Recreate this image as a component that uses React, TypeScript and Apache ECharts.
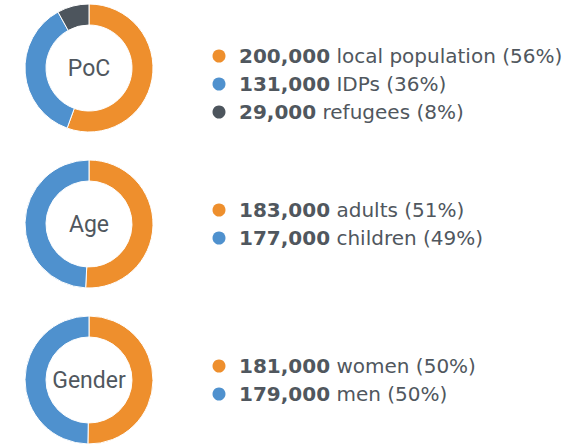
import React, { useEffect, useRef } from "react";
import * as echarts from "echarts";

const ORANGE = "#EE8F2D";
const BLUE = "#4F91CE";
const DARK = "#4D555D";
const TEXT = "#50575E";

const groupTitles = ["PoC", "Age", "Gender"];

const pocLabels = ["local population", "IDPs", "refugees"];
const pocValues = [200000, 131000, 29000];
const pocPercents = [56, 36, 8];
const pocColors = [ORANGE, BLUE, DARK];

const ageLabels = ["adults", "children"];
const ageValues = [183000, 177000];
const agePercents = [51, 49];
const ageColors = [ORANGE, BLUE];

const genderLabels = ["women", "men"];
const genderValues = [181000, 179000];
const genderPercents = [50, 50];
const genderColors = [ORANGE, BLUE];

const groups = [
  { labels: pocLabels, values: pocValues, percents: pocPercents, colors: pocColors },
  { labels: ageLabels, values: ageValues, percents: agePercents, colors: ageColors },
  { labels: genderLabels, values: genderValues, percents: genderPercents, colors: genderColors },
];

// layout
const pieCx = 89;
const pieCys = [68, 224, 380];
const legendStartYs = [56, 210, 366];
const rowGap = 28;
const dotX = 219;
const textX = 239;

const fmt = (v: number) => v.toLocaleString("en-US");

export default function App() {
  const ref = useRef<HTMLDivElement>(null);
  useEffect(() => {
    document.body.style.margin = "0";
    if (!ref.current) return;
    const chart = echarts.init(ref.current, null, { renderer: "svg" });
    const series: any[] = groups.map((g, gi) => ({
      type: "pie",
      center: [pieCx, pieCys[gi]],
      radius: [43, 64],
      startAngle: 90,
      clockwise: true,
      silent: true,
      label: {
        show: true,
        position: "center",
        formatter: () => groupTitles[gi],
        fontFamily: "Roboto",
        fontSize: 23,
        color: TEXT,
      },
      labelLine: { show: false },
      itemStyle: { borderColor: "#fff", borderWidth: 1 },
      emphasis: { disabled: true },
      data: g.values.map((v, i) => ({
        value: v,
        name: g.labels[i],
        itemStyle: { color: g.colors[i] },
        label: { show: i === 0 },
      })),
    }));

    const graphics: any[] = [];
    groups.forEach((g, gi) => {
      g.labels.forEach((lab, i) => {
        const y = legendStartYs[gi] + i * rowGap;
        graphics.push({
          type: "circle",
          shape: { cx: dotX, cy: y, r: 6.5 },
          style: { fill: g.colors[i] },
          silent: true,
        });
        graphics.push({
          type: "text",
          x: textX,
          y: y,
          silent: true,
          style: {
            text: `{b|${fmt(g.values[i])}}{n| ${lab} (${g.percents[i]}%)}`,
            verticalAlign: "middle",
            align: "left",
            rich: {
              b: { fontFamily: "DejaVu Sans", fontSize: 20, fontWeight: "bold", fill: TEXT },
              n: { fontFamily: "DejaVu Sans", fontSize: 20, fill: TEXT },
            },
          },
        });
      });
    });

    chart.setOption({
      animation: false,
      backgroundColor: "#fff",
      series,
      graphic: graphics,
    });
    return () => chart.dispose();
  }, []);
  return <div ref={ref} style={{ width: 586, height: 445 }} />;
}
